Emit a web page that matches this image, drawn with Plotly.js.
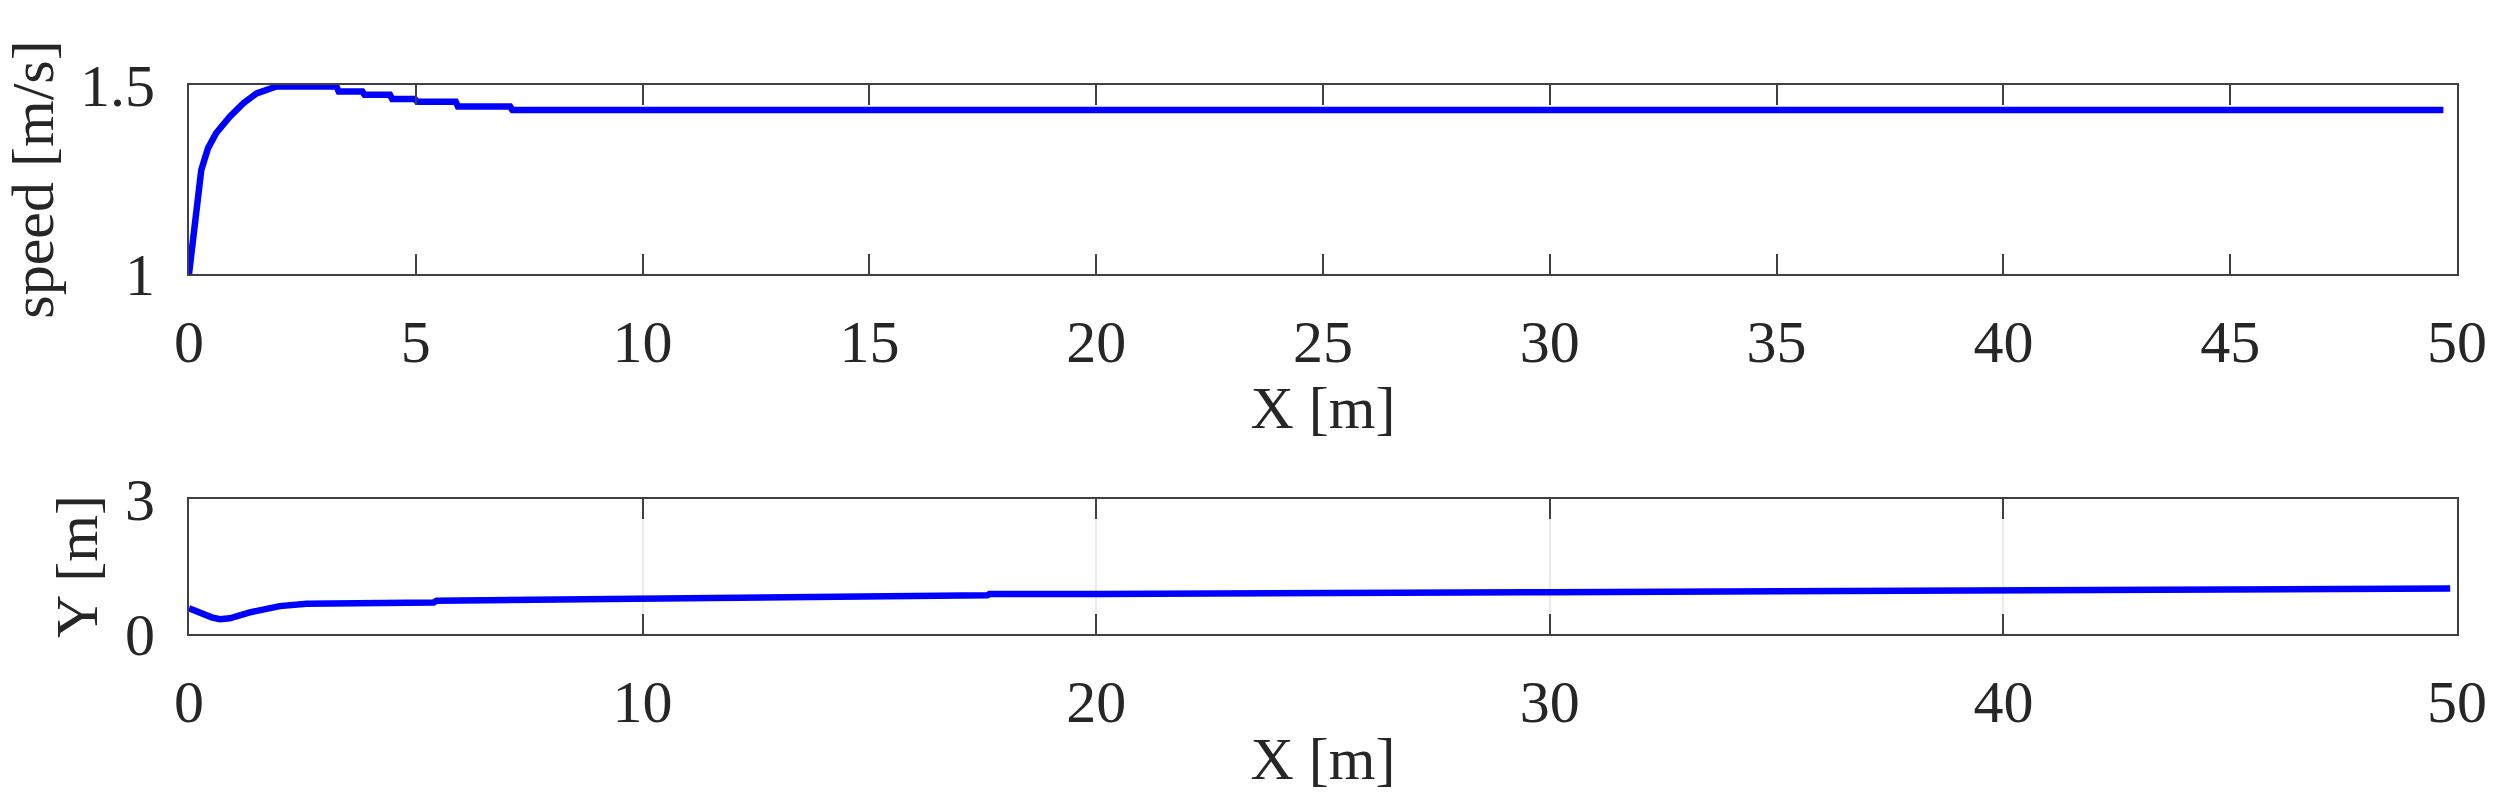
<!DOCTYPE html>
<html>
<head>
<meta charset="utf-8">
<script src="https://cdn.plot.ly/plotly-3.0.1.min.js"></script>
<style>html,body{margin:0;padding:0;background:#fff;}#chart{width:2513px;height:809px;}</style>
</head>
<body>
<div id="chart"></div>
<script>
// Top panel: speed vs X
var speedX = [0, 0.05, 0.09, 0.16, 0.27, 0.42, 0.6, 0.9, 1.2, 1.49, 1.79, 1.93, 3.25, 3.3, 3.82, 3.87, 4.43, 4.48, 4.98, 5.03, 5.88, 5.93, 7.08, 7.13, 49.7];
var speed  = [1.0, 1.05, 1.09, 1.19, 1.275, 1.333, 1.373, 1.416, 1.452, 1.478, 1.491, 1.496, 1.496, 1.483, 1.483, 1.474, 1.474, 1.463, 1.463, 1.456, 1.456, 1.443, 1.443, 1.434, 1.434];

// Bottom panel: Y vs X
var posX = [0, 0.24, 0.5, 0.68, 0.9, 1.34, 2.0, 2.59, 5.39, 5.46, 7.66, 7.7, 11.55, 11.6, 17.6, 17.65, 20.1, 30, 40, 49.4, 49.45, 49.85];
var posY = [0.57, 0.46, 0.37, 0.33, 0.35, 0.48, 0.62, 0.67, 0.70, 0.74, 0.76, 0.79, 0.80, 0.83, 0.86, 0.89, 0.89, 0.93, 0.96, 0.98, 1.01, 1.01];

var topXTicks = [0, 5, 10, 15, 20, 25, 30, 35, 40, 45, 50];
var topYTicks = [1, 1.5];
var botXTicks = [0, 10, 20, 30, 40, 50];
var botYTicks = [0, 3];

var FONT = 'Liberation Serif, Times New Roman, serif';
var TXT = '#262626';
var AX = '#404040';
var FS = 60;

function xaxisCfg(ticks, anchor, grid) {
  return {
    anchor: anchor, range: [0, 50], tickvals: ticks, ticktext: ticks.map(String),
    ticks: 'inside', ticklen: 20, tickwidth: 2, tickcolor: AX,
    showline: true, linecolor: AX, linewidth: 2, mirror: 'ticks',
    showgrid: grid, gridcolor: '#ebebeb', gridwidth: 2,
    zeroline: false, fixedrange: true,
    tickfont: {family: FONT, size: FS, color: TXT},
    ticklabelstandoff: 14,
    title: {text: 'X [m]', font: {family: FONT, size: FS, color: TXT}, standoff: 3}
  };
}
function yaxisCfg(ticks, range, domain, anchor, title, standoff) {
  return {
    anchor: anchor, domain: domain, range: range, tickvals: ticks, ticktext: ticks.map(String),
    ticks: 'inside', ticklen: 20, tickwidth: 2, tickcolor: AX,
    showline: true, linecolor: AX, linewidth: 2, mirror: 'ticks',
    showgrid: false, zeroline: false, fixedrange: true,
    tickfont: {family: FONT, size: FS, color: TXT},
    ticklabelstandoff: 20,
    title: {text: title, font: {family: FONT, size: FS, color: TXT}, standoff: standoff}
  };
}

var data = [
  {x: speedX, y: speed, xaxis: 'x', yaxis: 'y', mode: 'lines',
   line: {color: '#0000ff', width: 6.5}, hoverinfo: 'skip'},
  {x: posX, y: posY, xaxis: 'x2', yaxis: 'y2', mode: 'lines',
   line: {color: '#0000ff', width: 6.5}, hoverinfo: 'skip'}
];

var layout = {
  width: 2513, height: 809,
  margin: {l: 189, r: 56, t: 85, b: 175},
  paper_bgcolor: '#ffffff', plot_bgcolor: '#ffffff',
  showlegend: false,
  xaxis: xaxisCfg(topXTicks, 'y', false),
  yaxis: yaxisCfg(topYTicks, [1, 1.5], [0.6557, 1], 'x', 'speed [m/s]', 14),
  xaxis2: xaxisCfg(botXTicks, 'y2', true),
  yaxis2: yaxisCfg(botYTicks, [0, 3], [0, 0.2459], 'x2', 'Y [m]', 8)
};

Plotly.newPlot('chart', data, layout, {displayModeBar: false, staticPlot: true});
</script>
</body>
</html>
